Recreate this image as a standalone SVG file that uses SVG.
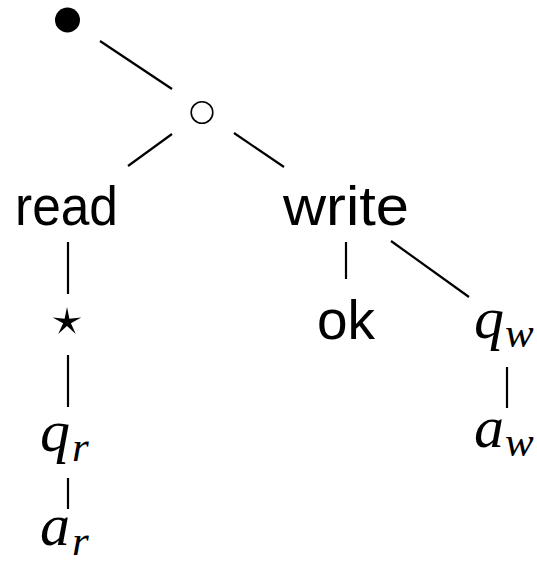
<svg xmlns="http://www.w3.org/2000/svg" width="537" height="565" viewBox="0 0 537 565">
  <style>
    .edge { stroke: #000; stroke-width: 2.2; fill: none; }
    .word { font-family: "Liberation Sans", Arial, sans-serif; font-size: 55px; fill: #000; }
    .math { font-family: "Liberation Serif", "Times New Roman", serif; font-style: italic; font-size: 60px; fill: #000; }
    .sub  { font-family: "Liberation Serif", "Times New Roman", serif; font-style: italic; font-size: 43px; fill: #000; }
  </style>
  <rect width="537" height="565" fill="#fff"/>

  <!-- connectors -->
  <g id="edges">
    <line class="edge" x1="100" y1="41" x2="172" y2="89"/>
    <line class="edge" x1="172" y1="134" x2="128" y2="166"/>
    <line class="edge" x1="234" y1="133" x2="284" y2="167"/>
    <line class="edge" x1="68" y1="242" x2="68" y2="294"/>
    <line class="edge" x1="68" y1="355" x2="68" y2="407"/>
    <line class="edge" x1="68" y1="478" x2="68" y2="509"/>
    <line class="edge" x1="346" y1="242" x2="346" y2="279"/>
    <line class="edge" x1="391" y1="241" x2="469" y2="297"/>
    <line class="edge" x1="507" y1="367" x2="507" y2="408"/>
  </g>

  <!-- nodes -->
  <g id="root">
    <circle cx="67.5" cy="20" r="12.5" fill="#000"/>
  </g>
  <g id="choice">
    <circle cx="202" cy="112.5" r="10.8" fill="none" stroke="#000" stroke-width="1.6"/>
  </g>
  <g id="read">
    <text class="word" x="15" y="225" textLength="103" lengthAdjust="spacingAndGlyphs">read</text>
  </g>
  <g id="write">
    <text class="word" x="283" y="225" textLength="126" lengthAdjust="spacingAndGlyphs">write</text>
  </g>
  <g id="star">
    <polygon fill="#000" points="67,307 69.4,318.7 81.3,317.4 70.9,323.3 75.8,334.1 67,326 58.2,334.1 63.1,323.3 52.7,317.4 64.6,318.7"/>
  </g>
  <g id="ok">
    <text class="word" x="317" y="339" textLength="58" lengthAdjust="spacingAndGlyphs">ok</text>
  </g>
  <g id="q_r">
    <text class="math" x="40" y="451">q</text>
    <text class="sub" x="72" y="461">r</text>
  </g>
  <g id="a_r">
    <text class="math" x="40" y="545">a</text>
    <text class="sub" x="72" y="555">r</text>
  </g>
  <g id="q_w">
    <text class="math" x="474" y="338">q</text>
    <text class="sub" x="505" y="347">w</text>
  </g>
  <g id="a_w">
    <text class="math" x="474" y="447">a</text>
    <text class="sub" x="505" y="456">w</text>
  </g>
</svg>
